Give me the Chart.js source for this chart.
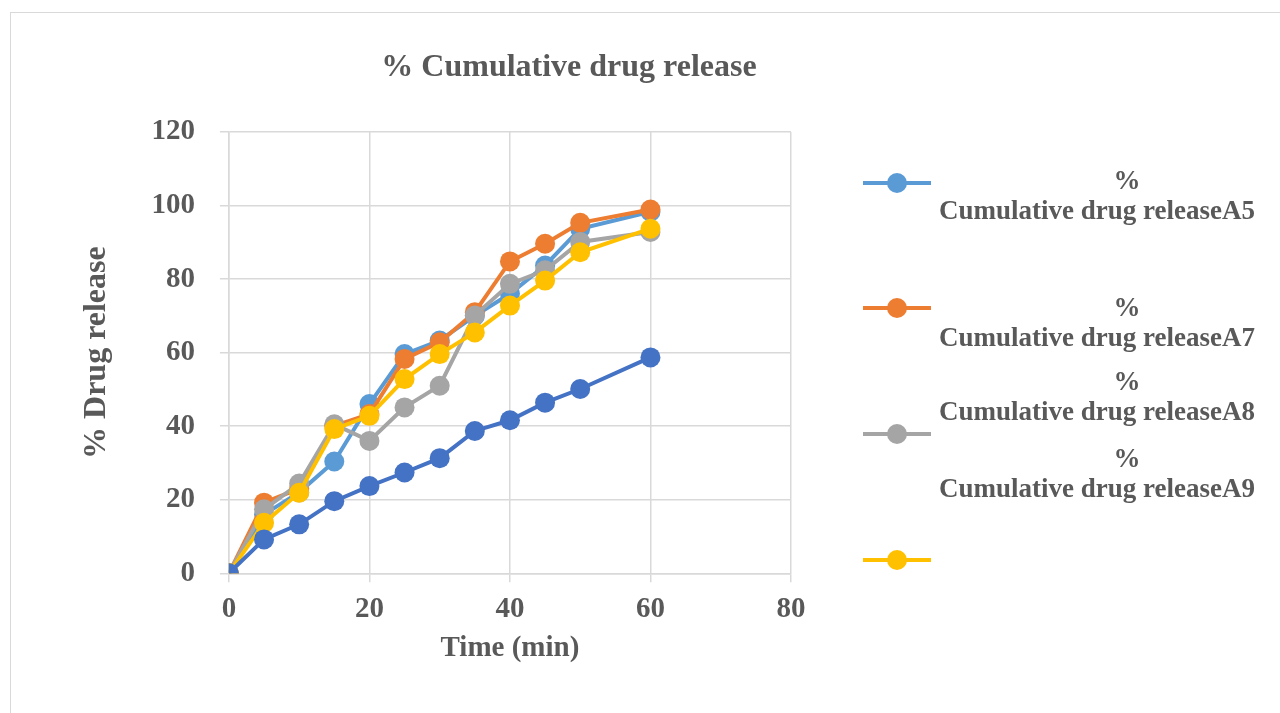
<!DOCTYPE html>
<html>
<head>
<meta charset="utf-8">
<script src="https://cdn.jsdelivr.net/npm/chart.js@4.4.1/dist/chart.umd.min.js"></script>
<style>
  body { margin: 0; background: #fff; font-family: "Liberation Serif", "Times New Roman", serif; }
  #wrap { position: relative; width: 1280px; height: 713px; overflow: hidden; }
  #frame { position: absolute; left: 10px; top: 12px; width: 1400px; height: 800px; border: 1px solid #d9d9d9; }
  #title { position: absolute; left: 0; width: 1138px; top: 47px; text-align: center;
           font-weight: bold; font-size: 32px; color: #595959; }
  canvas { position: absolute; left: 0; top: 0; }
  .leg { position: absolute; left: 863px; width: 68px; height: 4px; }
  .leg span { position: absolute; left: 24px; top: -8px; width: 20px; height: 20px; border-radius: 50%; }
  .legtxt { position: absolute; left: 930px; width: 334px; text-align: center; font-weight: bold;
            font-size: 27px; color: #595959; line-height: 30px; white-space: nowrap; }
  .legtxt .pct { position: relative; left: 30px; }
</style>
</head>
<body>
<div id="wrap">
  <div id="frame"></div>
  <canvas id="chart" width="1280" height="713"></canvas>
  <div id="title">% Cumulative drug release</div>
  <div id="legend"></div>
</div>
<script>
// time points (min)
const times = [0, 5, 10, 15, 20, 25, 30, 35, 40, 45, 50, 60];

// % cumulative drug release per formulation
const releaseA5 = [0, 16, 22, 30.4, 46, 59.6, 63.3, 70, 76, 83.7, 93.7, 98.3];
const releaseA7 = [0, 19.2, 23, 40.1, 43.3, 58.3, 62.8, 71, 84.8, 89.6, 95.3, 98.9];
const releaseA8 = [0, 17.4, 24.4, 40.5, 36, 45.1, 51, 70.1, 78.7, 82.4, 90.1, 92.8];
const releaseA9 = [0, 13.7, 21.9, 39.2, 42.8, 52.8, 59.6, 65.5, 72.8, 79.6, 87.3, 93.7];
const releaseDark = [0, 9.2, 13.3, 19.6, 23.7, 27.4, 31.3, 38.7, 41.6, 46.4, 50.1, 58.7];

const seriesNames = ['% Cumulative drug releaseA5', '% Cumulative drug releaseA7',
                     '% Cumulative drug releaseA8', '% Cumulative drug releaseA9', ''];
const seriesColors = ['#5B9BD5', '#ED7D31', '#A5A5A5', '#FFC000', '#4472C4'];

const yTicks = [0, 20, 40, 60, 80, 100, 120];
const xTicks = [0, 20, 40, 60, 80];

const textColor = '#595959';
const fontFamily = "'Liberation Serif', 'Times New Roman', serif";

function toPoints(values) {
    return times.map((t, i) => ({ x: t, y: values[i] }));
}

const allSeries = [releaseA5, releaseA7, releaseA8, releaseA9, releaseDark];
const drawOrder = [4, 3, 2, 1, 0]; // dark blue on top, like the original

const datasets = allSeries.map((vals, i) => ({
    label: seriesNames[i],
    data: toPoints(vals),
    borderColor: seriesColors[i],
    backgroundColor: seriesColors[i],
    borderWidth: 4,
    pointRadius: 10,
    pointBorderWidth: 0,
    tension: 0,
    order: drawOrder[i]
}));

new Chart(document.getElementById('chart'), {
    type: 'line',
    data: { datasets: datasets },
    options: {
        responsive: false,
        animation: false,
        layout: { padding: { left: 76, right: 489, top: 132, bottom: 54 } },
        plugins: {
            legend: { display: false },
            title: { display: false },
            tooltip: { enabled: false }
        },
        scales: {
            x: {
                type: 'linear',
                min: 0, max: 80,
                afterBuildTicks: axis => { axis.ticks = xTicks.map(v => ({ value: v })); },
                grid: { color: '#d9d9d9', lineWidth: 1.5, tickLength: 9 },
                border: { color: '#d9d9d9', width: 1.5 },
                ticks: { color: textColor, padding: 13,
                         font: { family: fontFamily, size: 29, weight: 'bold', lineHeight: 1 } },
                title: { display: true, text: 'Time (min)', color: textColor, padding: { top: 0, bottom: 0 },
                         font: { family: fontFamily, size: 29, weight: 'bold', lineHeight: 0.75 } }
            },
            y: {
                min: 0, max: 120,
                afterBuildTicks: axis => { axis.ticks = yTicks.map(v => ({ value: v })); },
                grid: { color: '#d9d9d9', lineWidth: 1.5, tickLength: 9 },
                border: { color: '#d9d9d9', width: 1.5 },
                ticks: { color: textColor, padding: 25, font: { family: fontFamily, size: 29, weight: 'bold' } },
                title: { display: true, text: '% Drug release', color: textColor, padding: { top: 2, bottom: 10 },
                         font: { family: fontFamily, size: 32, weight: 'bold' } }
            }
        }
    }
});

// legend drawn beside the chart, the way the original places it
const legendRows = [183, 308, 434, 560];
const legendText = [165, 292, 366, 443];
const legend = document.getElementById('legend');
legendRows.forEach((y, i) => {
    const line = document.createElement('div');
    line.className = 'leg';
    line.style.top = (y - 2) + 'px';
    line.style.background = seriesColors[i];
    const dot = document.createElement('span');
    dot.style.background = seriesColors[i];
    line.appendChild(dot);
    legend.appendChild(line);

    const txt = document.createElement('div');
    txt.className = 'legtxt';
    txt.style.top = legendText[i] + 'px';
    const parts = seriesNames[i].split(' ');
    txt.innerHTML = '<span class="pct">' + parts[0] + '</span><br>' + parts.slice(1).join(' ');
    legend.appendChild(txt);
});
</script>
</body>
</html>
